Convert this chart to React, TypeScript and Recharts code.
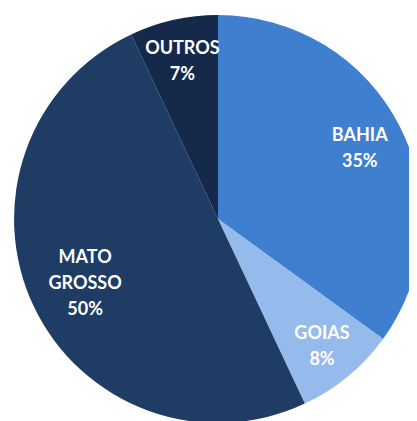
import React from 'react';
import { PieChart, Pie, Cell } from 'recharts';

const states = ['BAHIA', 'GOIAS', 'MATO GROSSO', 'OUTROS'];
const shares = [35, 8, 50, 7];
const sliceColors = ['#3f7fcf', '#95bbed', '#1e3c64', '#15294a'];

const data = states.map((name, i) => ({ name, value: shares[i] }));

const RADIAN = Math.PI / 180;
// label distance from centre, as a share of the radius
const labelDist = [0.78, 0.8, 0.72, 0.8];

const renderLabel = (props: any) => {
  const { cx, cy, midAngle, outerRadius, index } = props;
  const r = outerRadius * labelDist[index];
  const x = cx + r * Math.cos(-midAngle * RADIAN);
  const y = cy + r * Math.sin(-midAngle * RADIAN);
  const lines = [...states[index].split(' '), `${shares[index]}%`];
  const lh = 26;
  const top = y - ((lines.length - 1) * lh) / 2;
  return (
    <text
      x={x}
      y={top}
      fill="#ffffff"
      textAnchor="middle"
      dominantBaseline="central"
      style={{ fontFamily: 'Lato, "Open Sans", sans-serif', fontWeight: 700, fontSize: 18 }}
    >
      {lines.map((l, i) => (
        <tspan key={i} x={x} dy={i === 0 ? 0 : lh}>
          {l}
        </tspan>
      ))}
    </text>
  );
};

export default function App() {
  return (
    <div style={{ width: 409, height: 413, background: '#ffffff' }}>
      <PieChart width={409} height={413} margin={{ top: 0, right: 0, bottom: 0, left: 0 }}>
        <Pie
          data={data}
          dataKey="value"
          nameKey="name"
          cx={210}
          cy={211}
          outerRadius={204}
          startAngle={90}
          endAngle={-270}
          stroke="none"
          label={renderLabel}
          labelLine={false}
          isAnimationActive={false}
        >
          {data.map((d, i) => (
            <Cell key={d.name} fill={sliceColors[i]} />
          ))}
        </Pie>
      </PieChart>
    </div>
  );
}
